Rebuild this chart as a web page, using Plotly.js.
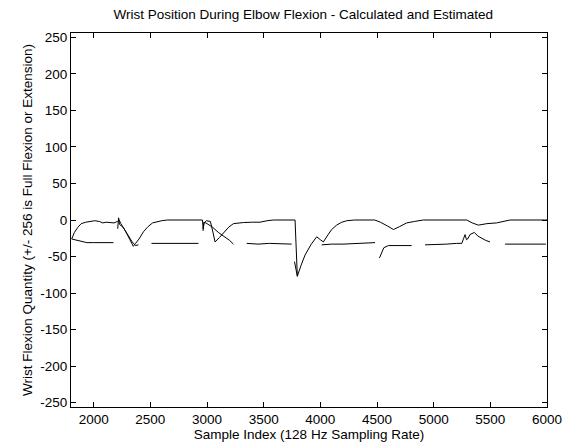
<!DOCTYPE html>
<html>
<head>
<meta charset="utf-8">
<script src="https://cdn.plot.ly/plotly-3.0.1.min.js"></script>
<style>
html,body{margin:0;padding:0;background:#fff;}
#chart{width:570px;height:447px;}
</style>
</head>
<body>
<div id="chart"></div>
<script>
// Calculated wrist position (continuous)
const calcX = [1806,1830,1860,1890,1930,1970,2010,2050,2080,2110,2150,2180,2210,2225,2240,2280,2320,2350,2370,2400,2440,2480,2520,2560,2600,2650,2960,2966,2975,2995,3030,3050,3071,3110,3150,3190,3233,3280,3321,3400,3468,3530,3586,3777,3797,3830,3865,3920,3968,4000,4027,4060,4100,4144,4190,4233,4300,4480,4530,4590,4645,4700,4762,4830,4909,5292,5340,5395,5470,5556,5620,5674,6000];
const calcY = [-26,-17,-10,-5,-3,-2,-1,-2,-4,-3,-3,-4,-2,0,-5,-15,-27,-36,-32,-26,-16,-9,-4,-2,-1,0,0,-12,-4,-1,-2,-15,-30,-24,-17,-10,-5,-4,-3.5,-3,-3,-1,0,0,-77,-62,-48,-33,-23,-27,-30,-22,-13,-7,-3,-1,0,0,-3,-8,-13,-9,-4,-2,0,0,-4,-7,-5,-4,-2,0,0];

// Estimated wrist position (segments separated by null)
const estX = [1806,1830,1880,1940,2000,2100,2175,null,
  2212,2220,2228,2260,2300,2340,2370,2395,null,
  2510,2600,2700,2800,2925,null,
  2965,2972,2990,3050,3100,3150,3200,3233,null,
  3350,3450,3550,3650,3747,null,
  3772,3785,3797,null,
  4012,4100,4200,4300,4400,4483,null,
  4522,4540,4560,4600,4700,4806,null,
  4924,5000,5115,5200,5248,5265,5277,5290,5300,5320,5359,5390,5424,5460,5497,null,
  5630,5700,5800,5909,5990];
const estY = [-26,-27,-29,-31,-31,-31,-31,null,
  -12,3,-6,-10,-20,-30,-35,-34,null,
  -32,-32,-33,-32,-32,null,
  -15,-3,-4,-10,-17,-22,-28,-33,null,
  -32,-33,-32,-33,-33,null,
  -57,-68,-77,null,
  -34,-33,-33,-32,-32,-31,null,
  -52,-45,-38,-35,-35,-35,null,
  -34,-34,-33,-32,-32,-25,-20,-27,-26,-20,-17,-22,-25,-28,-30,null,
  -33,-33,-33,-34,-33];

const xTicks = [2000,2500,3000,3500,4000,4500,5000,5500,6000];
const yTicks = [-250,-200,-150,-100,-50,0,50,100,150,200,250];

const tickFont = {family:'Liberation Sans, Arial, sans-serif', size:13.5, color:'#000'};
const titleFont = {family:'Liberation Sans, Arial, sans-serif', size:13.5, color:'#000'};

const traces = [
  {x:calcX, y:calcY, type:'scatter', mode:'lines', line:{color:'#000', width:1}, hoverinfo:'none'},
  {x:estX, y:estY, type:'scatter', mode:'lines', connectgaps:false, line:{color:'#000', width:1}, hoverinfo:'none'}
];

const axisCommon = {
  showline:true, mirror:'allticks', linecolor:'#000', linewidth:1,
  ticks:'inside', ticklen:5, tickcolor:'#000', tickwidth:1,
  showgrid:false, zeroline:false, tickfont:tickFont, automargin:false
};

const layout = {
  width:570, height:447,
  margin:{l:71, r:23, t:33, b:40},
  paper_bgcolor:'#fff', plot_bgcolor:'#fff',
  showlegend:false,
  font:tickFont,
  title:{text:'Wrist Position During Elbow Flexion - Calculated and Estimated', font:titleFont,
    xref:'container', x:0.532, xanchor:'center', yref:'container', y:0.968, yanchor:'middle'},
  xaxis:Object.assign({}, axisCommon, {range:[1800,6000], tickvals:xTicks, ticktext:xTicks.map(String),
    title:{text:'Sample Index (128 Hz Sampling Rate)', font:titleFont, standoff:0}}),
  yaxis:Object.assign({}, axisCommon, {range:[-256,256], tickvals:yTicks, ticktext:yTicks.map(String),
    title:{text:'Wrist Flexion Quantity (+/- 256 is Full Flexion or Extension)', font:titleFont, standoff:4}})
};

Plotly.newPlot('chart', traces, layout, {staticPlot:true, displayModeBar:false});
</script>
</body>
</html>
